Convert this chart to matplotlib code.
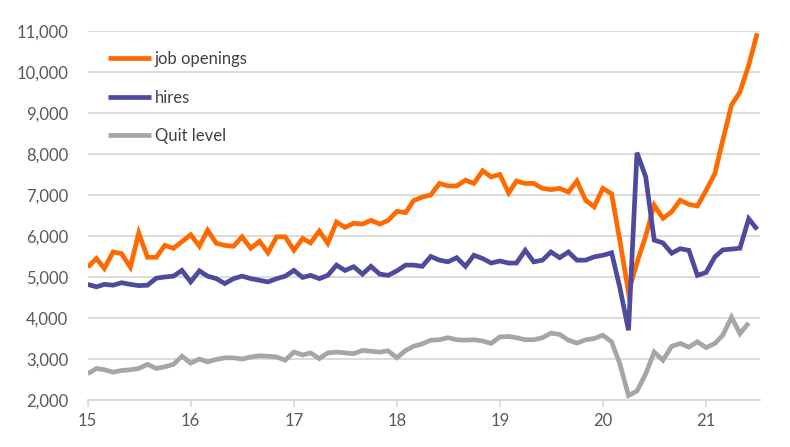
# coding: utf-8
import pandas as pd
import matplotlib
matplotlib.use('Agg')
import matplotlib.pyplot as plt
from matplotlib.ticker import FuncFormatter

# monthly, Jan 2015 .. Jul 2021 (thousands)
startMonth = '2015-01-01'

jobOpenings = [
    5240, 5450, 5210, 5610, 5570, 5240, 6070, 5480, 5480, 5770, 5700, 5860,
    6030, 5750, 6140, 5820, 5770, 5750, 5980, 5700, 5870, 5590, 5980, 5980,
    5650, 5940, 5830, 6120, 5820, 6340, 6210, 6310, 6290, 6380, 6290, 6380,
    6600, 6570, 6860, 6950, 7000, 7280, 7220, 7220, 7360, 7280, 7590, 7440,
    7500, 7050, 7340, 7280, 7280, 7160, 7130, 7160, 7070, 7340, 6870, 6710,
    7160, 7030, 5900, 4630, 5350, 6000, 6750, 6430, 6590, 6870, 6770, 6730,
    7110, 7520, 8330, 9190, 9510, 10160, 10940,
]

hires = [
    4820, 4760, 4820, 4800, 4860, 4820, 4790, 4800, 4970, 5000, 5020, 5160,
    4880, 5150, 5020, 4960, 4840, 4960, 5020, 4960, 4920, 4880, 4960, 5020,
    5160, 4990, 5040, 4960, 5040, 5290, 5160, 5250, 5070, 5260, 5070, 5040,
    5150, 5290, 5290, 5260, 5500, 5410, 5370, 5470, 5260, 5530, 5450, 5340,
    5390, 5340, 5340, 5650, 5370, 5410, 5610, 5470, 5610, 5410, 5410, 5490,
    5530, 5590, 4750, 3700, 8030, 7440, 5900, 5830, 5580, 5690, 5650, 5040,
    5110, 5490, 5660, 5680, 5700, 6420, 6160,
]

quits = [
    2640, 2770, 2740, 2680, 2720, 2740, 2770, 2870, 2770, 2810, 2870, 3070,
    2900, 3000, 2930, 2990, 3030, 3030, 3000, 3050, 3080, 3070, 3050, 2970,
    3170, 3100, 3150, 3010, 3150, 3170, 3150, 3130, 3210, 3190, 3170, 3200,
    3030, 3210, 3310, 3370, 3460, 3470, 3520, 3470, 3460, 3470, 3440, 3380,
    3540, 3550, 3520, 3470, 3470, 3520, 3630, 3600, 3460, 3390, 3470, 3500,
    3580, 3420, 2890, 2110, 2220, 2640, 3170, 2970, 3310, 3380, 3290, 3420,
    3280, 3380, 3580, 4020, 3620, 3880,
]

seriesNames = ['job openings', 'hires', 'Quit level']
seriesColors = ['#FF6A00', '#4E4A9C', '#A6A6A6']

yearLabels = ['15', '16', '17', '18', '19', '20', '21']


def makeDates(count):
    return pd.date_range(startMonth, periods=count, freq='MS')


def drawChart():
    plt.rcParams['font.family'] = ['Lato', 'DejaVu Sans']

    fig = plt.figure(figsize=(7.9, 4.47), dpi=100)
    ax = fig.add_axes([0.111, 0.105, 0.851, 0.826])

    allSeries = [jobOpenings, hires, quits]
    for vals, name, col in zip(allSeries, seriesNames, seriesColors):
        ax.plot(makeDates(len(vals)), vals, color=col, lw=3.4, label=name,
                solid_joinstyle='miter', solid_capstyle='butt')

    dates = makeDates(len(jobOpenings))
    ax.set_xlim(dates[0], dates[-1] + pd.Timedelta(days=10))
    ax.set_ylim(2000, 11000)
    ax.set_yticks(range(2000, 11001, 1000))
    ax.yaxis.set_major_formatter(FuncFormatter(lambda v, p: '{:,.0f}'.format(v)))

    yearTicks = pd.date_range('2015-01-01', periods=len(yearLabels), freq='YS')
    ax.set_xticks(yearTicks)
    ax.set_xticklabels(yearLabels)

    ax.grid(axis='y', color='#D9D9D9', lw=1.3)
    ax.set_axisbelow(True)
    for side in ['top', 'right', 'left']:
        ax.spines[side].set_visible(False)
    ax.spines['bottom'].set_color('#D9D9D9')
    ax.spines['bottom'].set_linewidth(1.3)

    ax.tick_params(axis='y', length=0, pad=14, labelsize=12, labelcolor='#595959')
    ax.tick_params(axis='x', length=5, width=1.2, color='#D9D9D9', pad=4,
                   labelsize=12, labelcolor='#595959')

    ax.legend(loc='upper left', bbox_to_anchor=(0.03, 0.945), frameon=False,
              fontsize=12, handlelength=2.6, handletextpad=0.2,
              labelspacing=1.35, borderpad=0, borderaxespad=0,
              labelcolor='#404040')

    fig.savefig('out.png', dpi=100)


def main():
    drawChart()


if __name__ == '__main__':
    main()
